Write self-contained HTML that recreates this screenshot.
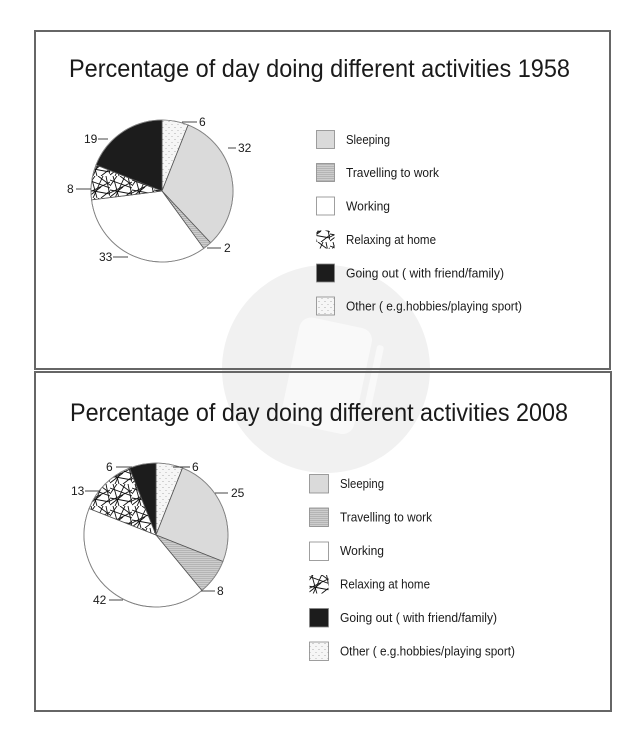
<!DOCTYPE html>
<html>
<head>
<meta charset="utf-8">
<style>
  html,body{margin:0;padding:0;background:#fff;}
  svg{display:block;}
  text{font-family:"Liberation Sans",Arial,sans-serif;fill:#1a1a1a;}
</style>
</head>
<body>
<svg width="640" height="746" viewBox="0 0 640 746" xmlns="http://www.w3.org/2000/svg">
  <defs>
    <pattern id="relax" patternUnits="userSpaceOnUse" width="22" height="22">
      <rect width="22" height="22" fill="#fff"/>
      <g stroke="#111" stroke-width="0.9" fill="none">
        <path d="M0,4 L22,12"/>
        <path d="M3,0 L9,22"/>
        <path d="M15,0 L5,22"/>
        <path d="M0,17 L22,6"/>
        <path d="M18,0 L22,20"/>
        <path d="M0,21 L13,11"/>
        <path d="M10,0 L22,9"/>
        <path d="M0,10 L7,0"/>
        <path d="M13,22 L22,15"/>
        <path d="M0,14 L22,18"/>
      </g>
    </pattern>
    <pattern id="other" patternUnits="userSpaceOnUse" width="6" height="6">
      <rect width="6" height="6" fill="#f6f6f6"/>
      <circle cx="1" cy="1.5" r="0.55" fill="#999"/>
      <circle cx="4" cy="4.5" r="0.55" fill="#aaa"/>
    </pattern>
    <pattern id="travel" patternUnits="userSpaceOnUse" width="4" height="2">
      <rect width="4" height="2" fill="#cdcdcd"/>
      <rect y="0" width="4" height="0.7" fill="#aaaaaa"/>
    </pattern>
  </defs>

  <!-- watermark -->
  <circle cx="326" cy="369" r="104" fill="#f1f1f1"/>
  <g transform="rotate(12 328 375)">
    <rect x="290" y="322" width="74" height="108" rx="12" fill="#f9f9f9"/>
    <rect x="370" y="335" width="7" height="70" rx="3" fill="#f9f9f9"/>
  </g>

  <!-- boxes -->
  <rect x="35" y="31" width="575" height="338" fill="none" stroke="#666" stroke-width="2"/>
  <rect x="35" y="372" width="576" height="339" fill="none" stroke="#666" stroke-width="2"/>

  <!-- Titles -->
  <text x="69" y="77" font-size="25" textLength="501" lengthAdjust="spacingAndGlyphs">Percentage of day doing different activities 1958</text>
  <text x="70" y="421" font-size="25" textLength="498" lengthAdjust="spacingAndGlyphs">Percentage of day doing different activities 2008</text>

  <!-- Top pie -->
  <g stroke="#555" stroke-width="0.8" stroke-linejoin="round">
    <path d="M162,191 L162,120 A71,71 0 0 1 188.14,124.98 Z" fill="url(#other)"/>
    <path d="M162,191 L188.14,124.98 A71,71 0 0 1 210.60,242.76 Z" fill="#dadada"/>
    <path d="M162,191 L210.60,242.76 A71,71 0 0 1 203.73,248.44 Z" fill="url(#travel)"/>
    <path d="M162,191 L203.73,248.44 A71,71 0 0 1 91.56,199.90 Z" fill="#fff"/>
    <path d="M162,191 L91.56,199.90 A71,71 0 0 1 95.98,164.86 Z" fill="url(#relax)"/>
    <path d="M162,191 L95.98,164.86 A71,71 0 0 1 162,120 Z" fill="#1c1c1c"/>
  </g>
  <circle cx="162" cy="191" r="71" fill="none" stroke="#888" stroke-width="0.8"/>
  <g stroke="#333" stroke-width="0.9">
    <line x1="182" y1="122" x2="197" y2="122"/>
    <line x1="228" y1="148" x2="236" y2="148"/>
    <line x1="207" y1="248" x2="221" y2="248"/>
    <line x1="113" y1="257" x2="128" y2="257"/>
    <line x1="76" y1="189" x2="91" y2="189"/>
    <line x1="98" y1="139" x2="108" y2="139"/>
  </g>
  <g font-size="12">
    <text x="199" y="126">6</text>
    <text x="238" y="152">32</text>
    <text x="224" y="252">2</text>
    <text x="99" y="261">33</text>
    <text x="67" y="193">8</text>
    <text x="84" y="143">19</text>
  </g>

  <!-- Bottom pie -->
  <g stroke="#555" stroke-width="0.8" stroke-linejoin="round">
    <path d="M156,535 L156,463 A72,72 0 0 1 182.50,468.05 Z" fill="url(#other)"/>
    <path d="M156,535 L182.50,468.05 A72,72 0 0 1 222.95,561.50 Z" fill="#dadada"/>
    <path d="M156,535 L222.95,561.50 A72,72 0 0 1 201.89,590.48 Z" fill="url(#travel)"/>
    <path d="M156,535 L201.89,590.48 A72,72 0 0 1 89.05,508.50 Z" fill="#fff"/>
    <path d="M156,535 L89.05,508.50 A72,72 0 0 1 129.50,468.05 Z" fill="url(#relax)"/>
    <path d="M156,535 L129.50,468.05 A72,72 0 0 1 156,463 Z" fill="#1c1c1c"/>
  </g>
  <circle cx="156" cy="535" r="72" fill="none" stroke="#888" stroke-width="0.8"/>
  <g stroke="#333" stroke-width="0.9">
    <line x1="173" y1="467" x2="190" y2="467"/>
    <line x1="215" y1="493" x2="228" y2="493"/>
    <line x1="201" y1="591" x2="215" y2="591"/>
    <line x1="109" y1="600" x2="123" y2="600"/>
    <line x1="85" y1="491" x2="100" y2="491"/>
    <line x1="116" y1="467" x2="132" y2="467"/>
  </g>
  <g font-size="12">
    <text x="192" y="471">6</text>
    <text x="231" y="497">25</text>
    <text x="217" y="595">8</text>
    <text x="93" y="604">42</text>
    <text x="71" y="495">13</text>
    <text x="106" y="471">6</text>
  </g>

  <!-- Top legend -->
  <g stroke="#888" stroke-width="0.8">
    <rect x="316.5" y="130.5" width="18" height="18" fill="#dadada"/>
    <rect x="316.5" y="163.5" width="18" height="18" fill="url(#travel)"/>
    <rect x="316.5" y="197" width="18" height="18" fill="#fff"/>
    <rect x="316.5" y="230.5" width="18" height="18" fill="url(#relax)" stroke="none"/>
    <rect x="316.5" y="264" width="18" height="18" fill="#1c1c1c"/>
    <rect x="316.5" y="297" width="18" height="18" fill="url(#other)"/>
  </g>
  <g font-size="12.5">
    <text x="346" y="144" textLength="44" lengthAdjust="spacingAndGlyphs">Sleeping</text>
    <text x="346" y="177" textLength="93" lengthAdjust="spacingAndGlyphs">Travelling to work</text>
    <text x="346" y="210.5" textLength="44" lengthAdjust="spacingAndGlyphs">Working</text>
    <text x="346" y="244" textLength="90" lengthAdjust="spacingAndGlyphs">Relaxing at home</text>
    <text x="346" y="277.5" textLength="158" lengthAdjust="spacingAndGlyphs">Going out ( with friend/family)</text>
    <text x="346" y="310.5" textLength="176" lengthAdjust="spacingAndGlyphs">Other ( e.g.hobbies/playing sport)</text>
  </g>

  <!-- Bottom legend -->
  <g stroke="#888" stroke-width="0.8">
    <rect x="309.5" y="474.5" width="19" height="18.5" fill="#dadada"/>
    <rect x="309.5" y="508" width="19" height="18.5" fill="url(#travel)"/>
    <rect x="309.5" y="542" width="19" height="18.5" fill="#fff"/>
    <rect x="309.5" y="575" width="19" height="18.5" fill="url(#relax)" stroke="none"/>
    <rect x="309.5" y="608.5" width="19" height="18.5" fill="#1c1c1c"/>
    <rect x="309.5" y="642" width="19" height="18.5" fill="url(#other)"/>
  </g>
  <g font-size="12.5">
    <text x="340" y="488" textLength="44" lengthAdjust="spacingAndGlyphs">Sleeping</text>
    <text x="340" y="521.5" textLength="92" lengthAdjust="spacingAndGlyphs">Travelling to work</text>
    <text x="340" y="555" textLength="44" lengthAdjust="spacingAndGlyphs">Working</text>
    <text x="340" y="588.5" textLength="90" lengthAdjust="spacingAndGlyphs">Relaxing at home</text>
    <text x="340" y="622" textLength="157" lengthAdjust="spacingAndGlyphs">Going out ( with friend/family)</text>
    <text x="340" y="655.5" textLength="175" lengthAdjust="spacingAndGlyphs">Other ( e.g.hobbies/playing sport)</text>
  </g>
</svg>
</body>
</html>
